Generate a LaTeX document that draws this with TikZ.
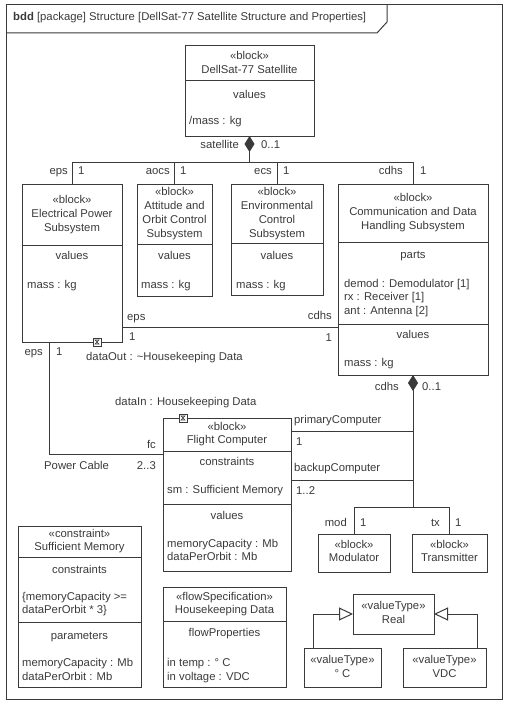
\documentclass[tikz,border=0pt]{standalone}
\usepackage{fontspec}
\setmainfont{Liberation Sans}
\usetikzlibrary{arrows.meta,fit}
\definecolor{ink}{HTML}{3A3A3A}
\begin{document}
\begin{tikzpicture}[x=1pt,y=-1pt,
  every node/.style={font=\fontsize{11.3}{14}\selectfont, text=ink},
  ln/.style={draw=ink, line width=1pt},
  box/.style={draw=ink, line width=1pt, inner sep=0pt, outer sep=0pt},
  lc/.style={inner sep=0pt, anchor=mid},
  ll/.style={inner sep=0pt, anchor=mid west},
  lr/.style={inner sep=0pt, anchor=mid east},
  port/.style={draw=ink, line width=0.8pt, fill=white, minimum size=8pt, inner sep=0pt,
    path picture={\draw[ink, line width=0.6pt]
      ([shift={(-2pt,-2pt)}]path picture bounding box.center) -- ([shift={(2pt,2pt)}]path picture bounding box.center)
      -- ([shift={(-2pt,2pt)}]path picture bounding box.center) -- ([shift={(2pt,-2pt)}]path picture bounding box.center) -- cycle;}},
  comp/.style={ln, {Diamond[length=16pt,width=10pt]}-},
  gen/.style={ln, -{Triangle[open,length=14pt,width=13pt]}}
]
\useasboundingbox (0,0) rectangle (507,709);

% diagram frame and its name tab
\draw[ln] (6,5) rectangle (502,699);
\draw[ln] (6,33) -- (377,33) -- (387,22) -- (387,5);
\node[ll] (title) at (13,18) {\textbf{bdd} [package] Structure [DellSat-77 Satellite Structure and Properties]};

% ---------- blocks ----------
\node[box, fit={(185,46) (314,136)}] (sat) {};
\draw[ln] (185,80) -- (314,80);
\node[lc] (satS) at (249.5,57) {«block»};
\node[lc] (satN) at (249.5,71) {DellSat-77 Satellite};
\node[lc] (satV) at (249.5,96) {values};
\node[ll] (satM) at (189,122) {/mass : kg};

\node[box, fit={(22,184) (122,342)}] (eps) {};
\draw[ln] (22,245) -- (122,245);
\node[lc] (epsS) at (72,201) {«block»};
\node[lc] (epsN1) at (72,215) {Electrical Power};
\node[lc] (epsN2) at (72,229) {Subsystem};
\node[lc] (epsV) at (72,257) {values};
\node[ll] (epsM) at (27,286) {mass : kg};

\node[box, fit={(137,184) (212,296)}] (aocs) {};
\draw[ln] (137,244) -- (212,244);
\node[lc] (aocsS) at (174.5,193) {«block»};
\node[lc] (aocsN1) at (174.5,207) {Attitude and};
\node[lc] (aocsN2) at (174.5,221) {Orbit Control};
\node[lc] (aocsN3) at (174.5,235) {Subsystem};
\node[lc] (aocsV) at (174.5,257) {values};
\node[ll] (aocsM) at (141,286) {mass : kg};

\node[box, fit={(231,184) (323,295)}] (ecs) {};
\draw[ln] (231,243) -- (323,243);
\node[lc] (ecsS) at (277,193) {«block»};
\node[lc] (ecsN1) at (277,207) {Environmental};
\node[lc] (ecsN2) at (277,221) {Control};
\node[lc] (ecsN3) at (277,235) {Subsystem};
\node[lc] (ecsV) at (277,257) {values};
\node[ll] (ecsM) at (236,286) {mass : kg};

\node[box, fit={(338,184) (488,375)}] (cdhs) {};
\draw[ln] (338,242) -- (488,242);
\draw[ln] (338,324) -- (488,324);
\node[lc] (cdhsS) at (413,199) {«block»};
\node[lc] (cdhsN1) at (413,213) {Communication and Data};
\node[lc] (cdhsN2) at (413,227) {Handling Subsystem};
\node[lc] (cdhsP) at (413,256) {parts};
\node[ll] (cdhsP1) at (344,285) {demod : Demodulator [1]};
\node[ll] (cdhsP2) at (344,298) {rx : Receiver [1]};
\node[ll] (cdhsP3) at (344,312) {ant : Antenna [2]};
\node[lc] (cdhsV) at (413,336) {values};
\node[ll] (cdhsM) at (344,364) {mass : kg};

\node[box, fit={(163,418) (291,571)}] (fc) {};
\draw[ln] (163,451) -- (291,451);
\draw[ln] (163,504) -- (291,504);
\node[lc] (fcS) at (227,428) {«block»};
\node[lc] (fcN) at (227,441) {Flight Computer};
\node[lc] (fcC) at (227,463) {constraints};
\node[ll] (fcC1) at (167,491) {sm : Sufficient Memory};
\node[lc] (fcV) at (227,517) {values};
\node[ll] (fcV1) at (167,545) {memoryCapacity : Mb};
\node[ll] (fcV2) at (167,558) {dataPerOrbit : Mb};

\node[box, fit={(318,534) (390,572)}] (mod) {};
\node[lc] (modS) at (354,546) {«block»};
\node[lc] (modN) at (354,559) {Modulator};

\node[box, fit={(412,534) (487,572)}] (tx) {};
\node[lc] (txS) at (449.5,546) {«block»};
\node[lc] (txN) at (449.5,559) {Transmitter};

\node[box, fit={(18,526) (141,687)}] (sm) {};
\draw[ln] (18,557) -- (141,557);
\draw[ln] (18,622) -- (141,622);
\node[lc] (smS) at (79.5,535) {«constraint»};
\node[lc] (smN) at (79.5,548) {Sufficient Memory};
\node[lc] (smC) at (79.5,571) {constraints};
\node[ll] (smC1) at (22,598) {\{memoryCapacity >=};
\node[ll] (smC2) at (22,611) {dataPerOrbit * 3\}};
\node[lc] (smP) at (79.5,637) {parameters};
\node[ll] (smP1) at (22,664) {memoryCapacity : Mb};
\node[ll] (smP2) at (22,678) {dataPerOrbit : Mb};

\node[box, fit={(163,587) (286,687)}] (hk) {};
\draw[ln] (163,621) -- (286,621);
\node[lc] (hkS) at (224.5,598) {«flowSpecification»};
\node[lc] (hkN) at (224.5,611) {Housekeeping Data};
\node[lc] (hkF) at (224.5,634) {flowProperties};
\node[ll] (hkF1) at (167,664) {in temp : ° C};
\node[ll] (hkF2) at (167,678) {in voltage : VDC};

\node[box, fit={(353,594) (434,634)}] (real) {};
\node[lc] (realS) at (393.5,607) {«valueType»};
\node[lc] (realN) at (393.5,621) {Real};

\node[box, fit={(304,648) (381,687)}] (degc) {};
\node[lc] (degcS) at (342.5,661) {«valueType»};
\node[lc] (degcN) at (342.5,675) {° C};

\node[box, fit={(403,648) (486,687)}] (vdc) {};
\node[lc] (vdcS) at (444.5,661) {«valueType»};
\node[lc] (vdcN) at (444.5,675) {VDC};

% ---------- flow ports ----------
\node[port] (pOut) at (97,342) {};
\node[port] (pIn) at (183,418) {};

% ---------- satellite composition tree ----------
\coordinate (j0) at (249.5,162);
\draw[comp] (sat.south) -- (j0);
\draw[ln] (eps.north) |- (cdhs.north |- j0) -- (cdhs.north);
\draw[ln] (aocs.north) -- (aocs.north |- j0);
\draw[ln] (ecs.north) -- (ecs.north |- j0);
\node[lr] (lSat) at (239,146) {satellite};
\node[ll] (lSatM) at (261,146) {0..1};
\node[lr] (lEps) at (68,172) {eps};
\node[ll] (lEpsM) at (78,172) {1};
\node[lr] (lAocs) at (170,172) {aocs};
\node[ll] (lAocsM) at (180,172) {1};
\node[lr] (lEcs) at (272,172) {ecs};
\node[ll] (lEcsM) at (283,172) {1};
\node[lr] (lCdhs) at (403,172) {cdhs};
\node[ll] (lCdhsM) at (420,172) {1};

% ---------- eps -- cdhs association ----------
\coordinate (yA) at (0,327);
\draw[ln] (eps.east |- yA) -- (cdhs.west |- yA);
\node[ll] (aEps) at (127,318) {eps};
\node[ll] (aEpsM) at (129,338) {1};
\node[lr] (aCdhs) at (332,317) {cdhs};
\node[lr] (aCdhsM) at (332,339) {1};

% ---------- power cable ----------
\coordinate (pc) at (49,454);
\draw[ln] (eps.south -| pc) -- (pc) -- (fc.west |- pc);
\node[lr] (cEps) at (43,353) {eps};
\node[ll] (cEpsM) at (56,353) {1};
\node[lr] (cFc) at (156,446) {fc};
\node[ll] (cName) at (44,467) {Power Cable};
\node[lr] (cFcM) at (156,467) {2..3};
\node[ll] (lOut) at (86,358) {dataOut : \textasciitilde Housekeeping Data};
\node[ll] (lIn) at (115,403) {dataIn : Housekeeping Data};

% ---------- cdhs composition ----------
\coordinate (j1) at (413,507);
\draw[comp] (cdhs.south) -- (j1);
\coordinate (yP) at (0,431);
\coordinate (yB) at (0,480);
\draw[ln] (fc.east |- yP) -- (j1 |- yP);
\draw[ln] (fc.east |- yB) -- (j1 |- yB);
\draw[ln] (mod.north) |- (tx.north |- j1) -- (tx.north);
\node[lr] (dCdhs) at (399,388) {cdhs};
\node[ll] (dCdhsM) at (422,388) {0..1};
\node[ll] (lPri) at (294,421) {primaryComputer};
\node[ll] (lPriM) at (296,443) {1};
\node[ll] (lBak) at (294,469) {backupComputer};
\node[ll] (lBakM) at (296,492) {1..2};
\node[lr] (lMod) at (347,524) {mod};
\node[ll] (lModM) at (360,524) {1};
\node[lr] (lTx) at (440,524) {tx};
\node[ll] (lTxM) at (455,524) {1};

% ---------- value type generalizations ----------
\coordinate (g1) at (313,614);
\coordinate (g2) at (477,614);
\draw[gen] (degc.north -| g1) |- (real.west);
\draw[gen] (vdc.north -| g2) |- (real.east);
\end{tikzpicture}
\end{document}
